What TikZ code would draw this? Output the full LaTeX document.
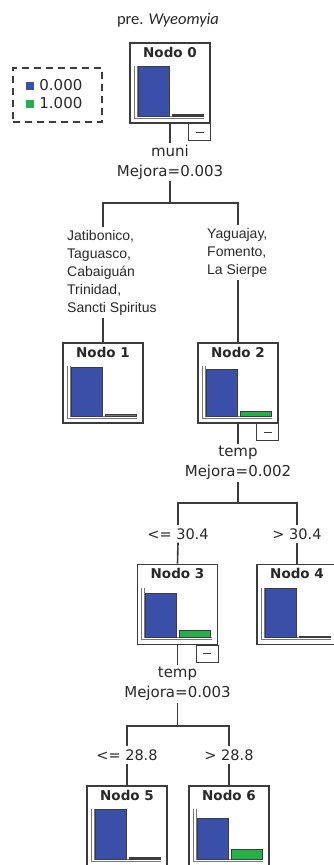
\documentclass[tikz,border=0pt]{standalone}
\usepackage{fontspec}
\usepackage{tikz}
\usetikzlibrary{positioning, calc}
\newfontfamily\treefont{DejaVu Sans}
\newfontfamily\catfont{Liberation Sans}
\newfontfamily\titlefont{Carlito}
\definecolor{barblue}{RGB}{58,80,168}
\definecolor{bargreen}{RGB}{38,176,72}
\definecolor{treegray}{RGB}{60,60,60}
\definecolor{axisgray}{RGB}{120,120,120}
\definecolor{txtdark}{RGB}{40,40,40}
\tikzset{
  nodebox/.style={rectangle, draw=treegray, fill=white, line width=1.6pt,
    minimum width=80pt, minimum height=80pt, inner sep=0pt},
  hdr/.style={font=\treefont\bfseries\fontsize{13.5}{15}\selectfont,
    text=txtdark, inner sep=0pt},
  splittxt/.style={font=\treefont\fontsize{15}{20}\selectfont, text=txtdark,
    align=center, inner sep=2pt},
  cuttxt/.style={font=\treefont\fontsize{14.5}{17}\selectfont, text=txtdark,
    inner sep=3pt},
  cattxt/.style={font=\catfont\fontsize{14}{18}\selectfont, text=txtdark,
    align=left, inner xsep=0pt, inner ysep=3pt, anchor=north west},
  legtxt/.style={font=\treefont\fontsize{15}{17}\selectfont, text=txtdark,
    inner sep=0pt},
  legkey/.style={rectangle, minimum size=8pt, inner sep=0pt},
  legendbox/.style={rectangle, draw=treegray, dash pattern=on 7pt off 5pt,
    line width=1.5pt, minimum width=89pt, minimum height=54pt},
  link/.style={draw=treegray, line width=1.6pt},
  axisline/.style={draw=axisgray, line width=1pt},
  barline/.style={draw=treegray, line width=0.9pt},
  minusbox/.style={draw=treegray, fill=white, line width=1.3pt}
}
% bars of one node: name, blue height, second height, second colour
\newcommand{\chartbars}[4]{%
  \begin{scope}[shift={(#1.north west)}]
    \draw[axisline] (5,24) -- (5,76) -- (75,76);
    \draw[axisline] (8,24) -- (8,74) -- (75,74);
    \filldraw[barline, fill=barblue] (9,74) rectangle (40,{74-#2});
    \filldraw[barline, fill=#4] (43,74) rectangle (74,{74-#3});
  \end{scope}}
% collapse mark under a split node
\newcommand{\minusmark}[1]{%
  \draw[minusbox] ($(#1.south east)+(-22,0)$) rectangle ++(22,17);
  \draw[treegray, line width=1.3pt] ($(#1.south east)+(-15,8.5)$) -- ++(8,0);}

\begin{document}
\begin{tikzpicture}[x=1pt, y=-1pt]
  \useasboundingbox (0,0) rectangle (333,865);
  % title and legend
  \node[font=\titlefont\fontsize{16.5}{18}\selectfont, text=txtdark] (title)
    at (168,20) {pre. \textit{Wyeomyia}};
  \node[legendbox] (legend) at (57.5,95) {};
  \node[legkey, fill=barblue] (k0) at (30,85.5) {};
  \node[legkey, fill=bargreen] (k1) at (30,103.5) {};
  \node[legtxt, right=5pt of k0] (t0) {0.000};
  \node[legtxt, right=5pt of k1] (t1) {1.000};

  % tree nodes
  \node[nodebox] (n0) at (170,83) {};
  \node[nodebox] (n1) at (103,383) {};
  \node[nodebox] (n2) at (238,383) {};
  \node[nodebox] (n3) at (177.5,604.5) {};
  \node[nodebox] (n4) at (297,604.5) {};
  \node[nodebox] (n5) at (127,826) {};
  \node[nodebox] (n6) at (229,826) {};
  \foreach \n in {0,...,6}
    \node[hdr] (h\n) at ($(n\n.north)+(0,10)$) {Nodo \n};
  \chartbars{n0}{50}{2}{treegray}
  \chartbars{n1}{49}{2}{axisgray}
  \chartbars{n2}{47}{5}{bargreen}
  \chartbars{n3}{44}{7}{bargreen}
  \chartbars{n4}{49}{1.5}{treegray}
  \chartbars{n5}{50}{1.5}{treegray}
  \chartbars{n6}{41}{10}{bargreen}
  \minusmark{n0}
  \minusmark{n2}
  \minusmark{n3}

  % split texts
  \node[splittxt] (split0) at (170,162) {muni\\Mejora=0.003};
  \node[splittxt] (split2) at (238,463) {temp\\Mejora=0.002};
  \node[splittxt] (split3) at (177.5,684) {temp\\Mejora=0.003};
  \coordinate (j0) at (170,203);
  \coordinate (j2) at (238,503);
  \coordinate (j3) at (177.5,726);

  % branch texts
  \node[cattxt] (lab1) at (67,227)
    {Jatibonico,\\Taguasco,\\Cabaigu\'an\\Trinidad,\\Sancti Spiritus};
  \node[cattxt] (lab2) at (207,225) {Yaguajay,\\Fomento,\\La Sierpe};
  \node[cuttxt] (c3) at (178,534) {<= 30.4};
  \node[cuttxt] (c4) at (297,534) {> 30.4};
  \node[cuttxt] (c5) at (127,755) {<= 28.8};
  \node[cuttxt] (c6) at (229,755) {> 28.8};

  % connectors
  \draw[link] (n0.south) -- (split0.north);
  \draw[link] (split0.south) -- (j0);
  \draw[link] (j0) -| (n1.north |- lab1.north);
  \draw[link] (n1.north |- lab1.south) -- (n1.north);
  \draw[link] (j0) -| (n2.north |- lab2.north);
  \draw[link] (n2.north |- lab2.south) -- (n2.north);
  \draw[link] (n2.south) -- (split2.north);
  \draw[link] (split2.south) -- (j2);
  \draw[link] (j2) -| (c3.north);
  \draw[link] (c3.south) -- (n3.north);
  \draw[link] (j2) -| (c4.north);
  \draw[link] (c4.south) -- (n4.north);
  \draw[link] (n3.south) -- (split3.north);
  \draw[link] (split3.south) -- (j3);
  \draw[link] (j3) -| (c5.north);
  \draw[link] (c5.south) -- (n5.north);
  \draw[link] (j3) -| (c6.north);
  \draw[link] (c6.south) -- (n6.north);
\end{tikzpicture}
\end{document}
